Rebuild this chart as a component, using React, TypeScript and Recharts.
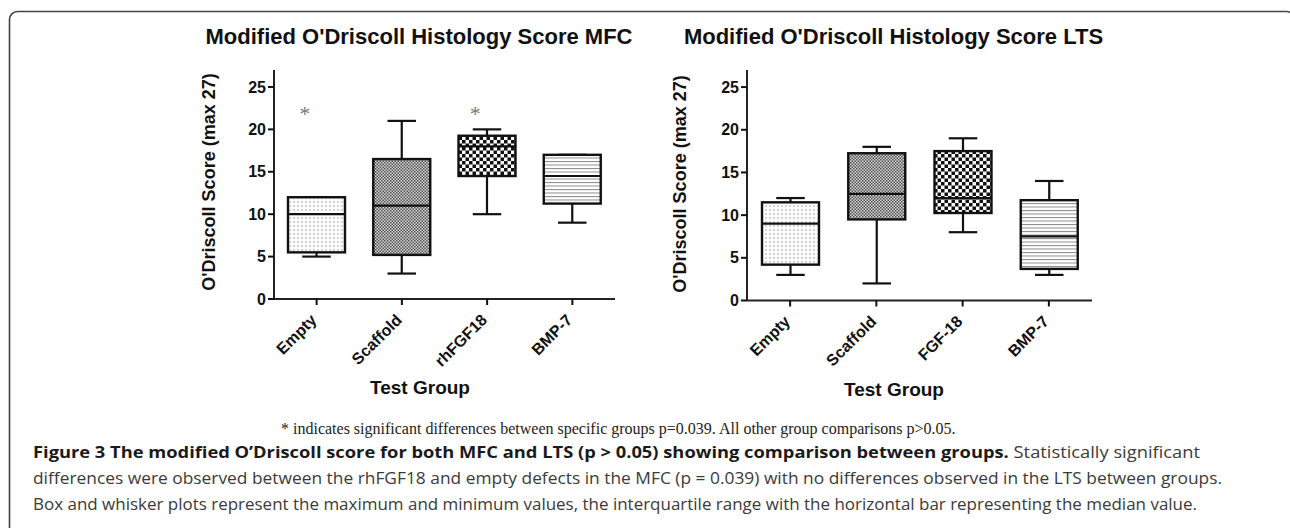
import React from "react";
import { ComposedChart, Bar, Scatter, XAxis, YAxis } from "recharts";

const SANS = "'Liberation Sans', Arial, sans-serif";

// MFC panel
const mfcGroups = ["Empty", "Scaffold", "rhFGF18", "BMP-7"];
const mfcMin = [5, 3, 10, 9];
const mfcQ1 = [5.5, 5.2, 14.5, 11.25];
const mfcMedian = [10, 11, 18, 14.5];
const mfcQ3 = [12, 16.5, 19.25, 17];
const mfcMax = [12, 21, 20, 17];
const mfcSig = [22.2, null, 22.2, null];

// LTS panel
const ltsGroups = ["Empty", "Scaffold", "FGF-18", "BMP-7"];
const ltsMin = [3, 2, 8, 3];
const ltsQ1 = [4.2, 9.5, 10.25, 3.7];
const ltsMedian = [9, 12.5, 12, 7.5];
const ltsQ3 = [11.5, 17.25, 17.5, 11.75];
const ltsMax = [12, 18, 19, 14];
const ltsSig = [null, null, null, null];

const yTicks = [0, 5, 10, 15, 20, 25];
const patternNames = ["dots", "fine", "coarse", "lines"];

function buildRows(
  prefix: string,
  groups: string[],
  mins: number[],
  q1s: number[],
  medians: number[],
  q3s: number[],
  maxs: number[],
  sig: (number | null)[]
) {
  return groups.map((g, i) => ({
    group: g,
    min: mins[i],
    q1: q1s[i],
    median: medians[i],
    q3: q3s[i],
    max: maxs[i],
    sig: sig[i],
    fill: `url(#${prefix}-${patternNames[i]})`,
  }));
}

const mfcRows = buildRows("mfc", mfcGroups, mfcMin, mfcQ1, mfcMedian, mfcQ3, mfcMax, mfcSig);
const ltsRows = buildRows("lts", ltsGroups, ltsMin, ltsQ1, ltsMedian, ltsQ3, ltsMax, ltsSig);

const BoxShape = (props: any) => {
  const { x, y, width, height, payload } = props;
  if (!payload || !Number.isFinite(y)) return <g />;
  const top = Math.min(y, y + height);
  const bottom = Math.max(y, y + height);
  const span = payload.max - payload.min;
  const py = (v: number) => bottom - ((v - payload.min) / span) * (bottom - top);
  const cx = x + width / 2;
  const cap = width / 4;
  const stroke = "#111";
  return (
    <g>
      <line x1={cx} x2={cx} y1={py(payload.max)} y2={py(payload.q3)} stroke={stroke} strokeWidth={2.2} />
      <line x1={cx} x2={cx} y1={py(payload.q1)} y2={py(payload.min)} stroke={stroke} strokeWidth={2.2} />
      <line x1={cx - cap} x2={cx + cap} y1={py(payload.max)} y2={py(payload.max)} stroke={stroke} strokeWidth={2.2} />
      <line x1={cx - cap} x2={cx + cap} y1={py(payload.min)} y2={py(payload.min)} stroke={stroke} strokeWidth={2.2} />
      <rect
        x={x}
        y={py(payload.q3)}
        width={width}
        height={py(payload.q1) - py(payload.q3)}
        fill={payload.fill}
        stroke={stroke}
        strokeWidth={2.4}
      />
      <line x1={x} x2={x + width} y1={py(payload.median)} y2={py(payload.median)} stroke={stroke} strokeWidth={2.2} />
    </g>
  );
};

const StarShape = (props: any) => {
  const { cx, cy, payload } = props;
  if (!payload || payload.sig == null || !Number.isFinite(cy)) return <g />;
  return (
    <text
      x={cx - 12}
      y={cy + 10}
      textAnchor="middle"
      fontFamily="'Liberation Serif', serif"
      fontSize={22}
      fill="#777"
    >
      *
    </text>
  );
};

const AngledTick = (props: any) => {
  const { x, y, payload } = props;
  return (
    <g transform={`translate(${x},${y})`}>
      <text
        x={1}
        y={14}
        textAnchor="end"
        transform="rotate(-45, 1, 14)"
        fontFamily={SANS}
        fontWeight={700}
        fontSize={16}
        fill="#111"
      >
        {payload.value}
      </text>
    </g>
  );
};

function Patterns({ prefix }: { prefix: string }) {
  return (
    <defs>
      <pattern id={`${prefix}-dots`} patternUnits="userSpaceOnUse" width={4} height={4}>
        <rect width={4} height={4} fill="#fbfbfb" />
        <circle cx={2} cy={2} r={0.65} fill="#8a8a8a" />
      </pattern>
      <pattern id={`${prefix}-fine`} patternUnits="userSpaceOnUse" width={3} height={3}>
        <rect width={3} height={3} fill="#dcdcdc" />
        <rect x={0} y={0} width={1.5} height={1.5} fill="#4a4a4a" />
        <rect x={1.5} y={1.5} width={1.5} height={1.5} fill="#4a4a4a" />
      </pattern>
      <pattern id={`${prefix}-coarse`} patternUnits="userSpaceOnUse" width={7} height={7}>
        <rect width={7} height={7} fill="#ffffff" />
        <rect x={0} y={0} width={3.5} height={3.5} fill="#111" />
        <rect x={3.5} y={3.5} width={3.5} height={3.5} fill="#111" />
      </pattern>
      <pattern id={`${prefix}-lines`} patternUnits="userSpaceOnUse" width={4} height={3.5}>
        <rect width={4} height={3.5} fill="#ffffff" />
        <rect x={0} y={0} width={4} height={1} fill="#8a8a8a" />
      </pattern>
    </defs>
  );
}

function BoxChart({ rows, prefix, width, height, margin }: any) {
  return (
    <ComposedChart width={width} height={height} data={rows} margin={margin} barCategoryGap={0}>
      <Patterns prefix={prefix} />
      <XAxis
        dataKey="group"
        height={60}
        interval={0}
        tickSize={6}
        axisLine={{ stroke: "#222", strokeWidth: 2 }}
        tickLine={{ stroke: "#111", strokeWidth: 2 }}
        tick={<AngledTick />}
      />
      <YAxis
        domain={[0, 27]}
        ticks={yTicks}
        width={60}
        tickSize={6}
        axisLine={{ stroke: "#222", strokeWidth: 2 }}
        tickLine={{ stroke: "#111", strokeWidth: 2 }}
        tick={{ fill: "#111", fontSize: 16, fontWeight: 700, fontFamily: SANS }}
      />
      <Bar
        dataKey={(d: any) => [d.min, d.max]}
        barSize={57}
        shape={(p: any) => <BoxShape {...p} />}
        isAnimationActive={false}
      />
      <Scatter dataKey="sig" shape={(p: any) => <StarShape {...p} />} isAnimationActive={false} />
    </ComposedChart>
  );
}

export default function App() {
  return (
    <div
      style={{
        position: "absolute",
        left: 0,
        top: 0,
        width: 1290,
        height: 528,
        background: "#fff",
        overflow: "hidden",
      }}
    >
      <div style={{ position: "absolute", left: 0, top: 0 }}>
        <BoxChart
          rows={mfcRows}
          prefix="mfc"
          width={640}
          height={440}
          margin={{ top: 70, right: 25, bottom: 81, left: 214 }}
        />
      </div>
      <div style={{ position: "absolute", left: 640, top: 0 }}>
        <BoxChart
          rows={ltsRows}
          prefix="lts"
          width={650}
          height={440}
          margin={{ top: 70, right: 198, bottom: 79.5, left: 47 }}
        />
      </div>
      <svg
        width={1290}
        height={528}
        style={{ position: "absolute", left: 0, top: 0, pointerEvents: "none" }}
      >
        <rect x={9.5} y={11.5} width={1285} height={600} rx={8} fill="none" stroke="#444" strokeWidth={1.6} />
        <text x={419} y={44} textAnchor="middle" fontFamily={SANS} fontWeight={700} fontSize={22} fill="#111">
          Modified O'Driscoll Histology Score MFC
        </text>
        <text x={893.5} y={44} textAnchor="middle" fontFamily={SANS} fontWeight={700} fontSize={22} fill="#111">
          Modified O'Driscoll Histology Score LTS
        </text>
        <text
          x={215}
          y={182}
          textAnchor="middle"
          transform="rotate(-90, 215, 182)"
          fontFamily={SANS}
          fontWeight={700}
          fontSize={18}
          fill="#111"
        >
          O'Driscoll Score (max 27)
        </text>
        <text
          x={686}
          y={184}
          textAnchor="middle"
          transform="rotate(-90, 686, 184)"
          fontFamily={SANS}
          fontWeight={700}
          fontSize={18}
          fill="#111"
        >
          O'Driscoll Score (max 27)
        </text>
        <text x={420} y={394} textAnchor="middle" fontFamily={SANS} fontWeight={700} fontSize={19} fill="#111">
          Test Group
        </text>
        <text x={894} y={396} textAnchor="middle" fontFamily={SANS} fontWeight={700} fontSize={19} fill="#111">
          Test Group
        </text>
        <text x={281} y={434} fontFamily="'Liberation Serif', 'Times New Roman', serif" fontSize={16} fill="#222">
          * indicates significant differences between specific groups p=0.039. All other group comparisons p&gt;0.05.
        </text>
        <text
          x={33}
          y={458}
          fontFamily="'Open Sans', sans-serif"
          fontSize={15.5}
          textLength={1167}
          lengthAdjust="spacingAndGlyphs"
        >
          <tspan fontWeight={700} fill="#1a1a1a">
            Figure 3 The modified O’Driscoll score for both MFC and LTS (p &gt; 0.05) showing comparison between groups.
          </tspan>
          <tspan fill="#3a3a3a"> Statistically significant</tspan>
        </text>
        <text
          x={33}
          y={484}
          fontFamily="'Open Sans', sans-serif"
          fontSize={15.5}
          fill="#3a3a3a"
          textLength={1189}
          lengthAdjust="spacingAndGlyphs"
        >
          differences were observed between the rhFGF18 and empty defects in the MFC (p = 0.039) with no differences observed in the LTS between groups.
        </text>
        <text
          x={33}
          y={510}
          fontFamily="'Open Sans', sans-serif"
          fontSize={15.5}
          fill="#3a3a3a"
          textLength={1164}
          lengthAdjust="spacingAndGlyphs"
        >
          Box and whisker plots represent the maximum and minimum values, the interquartile range with the horizontal bar representing the median value.
        </text>
      </svg>
    </div>
  );
}
